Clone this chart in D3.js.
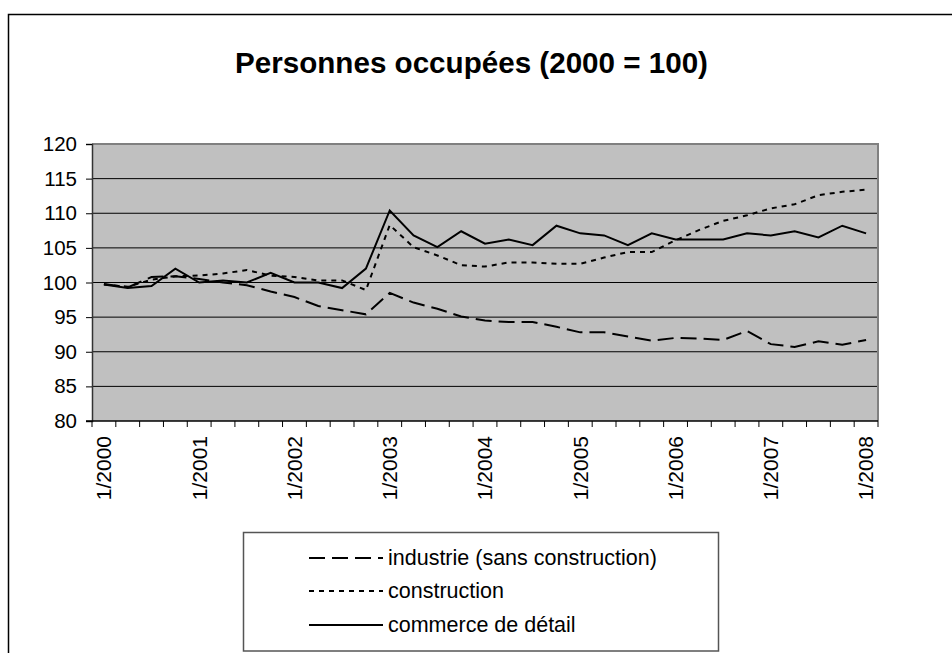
<!DOCTYPE html>
<html>
<head>
<meta charset="utf-8">
<script src="https://cdn.jsdelivr.net/npm/d3@7"></script>
<style>
  body { margin: 0; background: #fff; }
  svg { display: block; font-family: Arial, "Liberation Sans", sans-serif; }
</style>
</head>
<body>
<svg id="chart" width="952" height="653"></svg>
<script>
const title = "Personnes occupées (2000 = 100)";
const categories = [
  "1/2000","2/2000","3/2000","4/2000",
  "1/2001","2/2001","3/2001","4/2001",
  "1/2002","2/2002","3/2002","4/2002",
  "1/2003","2/2003","3/2003","4/2003",
  "1/2004","2/2004","3/2004","4/2004",
  "1/2005","2/2005","3/2005","4/2005",
  "1/2006","2/2006","3/2006","4/2006",
  "1/2007","2/2007","3/2007","4/2007",
  "1/2008"
];
const xTickLabels = ["1/2000","1/2001","1/2002","1/2003","1/2004","1/2005","1/2006","1/2007","1/2008"];
const yTicks = [80, 85, 90, 95, 100, 105, 110, 115, 120];
const seriesNames = ["industrie (sans construction)", "construction", "commerce de détail"];
const industrie = [99.8, 99.3, 100.8, 100.9, 100.5, 100.0, 99.6, 98.7, 97.9, 96.6, 96.0, 95.4,
  98.5, 97.1, 96.2, 95.1, 94.5, 94.3, 94.3, 93.6, 92.8, 92.8, 92.2, 91.6,
  92.0, 91.9, 91.7, 93.0, 91.1, 90.7, 91.5, 91.0, 91.7];
const construction = [99.7, 99.4, 100.4, 100.9, 101.0, 101.3, 101.8, 101.0, 100.8, 100.3, 100.3, 98.9,
  108.3, 105.1, 103.9, 102.5, 102.3, 102.9, 102.9, 102.7, 102.7, 103.6, 104.4, 104.4,
  106.1, 107.6, 108.9, 109.7, 110.7, 111.3, 112.6, 113.1, 113.4];
const commerce = [99.7, 99.2, 99.5, 102.0, 100.0, 100.3, 100.0, 101.4, 100.0, 100.0, 99.2, 102.0,
  110.4, 106.8, 105.1, 107.4, 105.6, 106.2, 105.4, 108.2, 107.1, 106.8, 105.4, 107.1,
  106.2, 106.2, 106.2, 107.1, 106.8, 107.4, 106.5, 108.2, 107.1];

const series = [
  { name: seriesNames[0], values: industrie, dash: "16,7" },
  { name: seriesNames[1], values: construction, dash: "5,5" },
  { name: seriesNames[2], values: commerce, dash: null }
];

const svg = d3.select("#chart");
const plot = { left: 92, right: 878, top: 144, bottom: 421 };

// outer chart border
svg.append("rect").attr("x", 8.5).attr("y", 14.5).attr("width", 1000).attr("height", 700)
  .attr("fill", "#fff").attr("stroke", "#000").attr("stroke-width", 1.5);

// title
svg.append("text").attr("x", 471.5).attr("y", 73).attr("text-anchor", "middle")
  .attr("font-size", 29.6).attr("font-weight", "bold").attr("fill", "#000").text(title);

const x = d3.scaleBand().domain(categories).range([plot.left, plot.right]).padding(0);
const y = d3.scaleLinear().domain([80, 120]).range([plot.bottom, plot.top]);
const cx = c => x(c) + x.bandwidth() / 2;

// plot background
svg.append("rect").attr("x", plot.left).attr("y", plot.top)
  .attr("width", plot.right - plot.left).attr("height", plot.bottom - plot.top)
  .attr("fill", "#c0c0c0");

// gridlines
svg.append("g").selectAll("line").data(yTicks.filter(v => v > 80 && v < 120)).join("line")
  .attr("x1", plot.left).attr("x2", plot.right)
  .attr("y1", d => y(d)).attr("y2", d => y(d))
  .attr("stroke", "#000").attr("stroke-width", 1);

// top & right border of plot
svg.append("path")
  .attr("d", `M${plot.left},${plot.top}H${plot.right}V${plot.bottom}`)
  .attr("fill", "none").attr("stroke", "#808080").attr("stroke-width", 2);

// Y axis
const yAxis = svg.append("g").attr("transform", `translate(${plot.left},0)`)
  .call(d3.axisLeft(y).tickValues(yTicks).tickSize(6).tickPadding(9).tickFormat(d3.format("d")));
yAxis.select(".domain").attr("stroke", "#333").attr("stroke-width", 1.5);
yAxis.selectAll(".tick line").attr("stroke", "#000");
yAxis.selectAll("text").attr("font-size", 20.5).attr("fill", "#000")
  .attr("font-family", "Arial, 'Liberation Sans', sans-serif");

// X axis line and ticks at band boundaries
svg.append("line").attr("x1", plot.left - 6).attr("x2", plot.right)
  .attr("y1", plot.bottom).attr("y2", plot.bottom)
  .attr("stroke", "#000").attr("stroke-width", 1.5);
const bounds = categories.map(c => x(c)).concat([plot.right]);
svg.append("g").selectAll("line").data(bounds).join("line")
  .attr("x1", d => d).attr("x2", d => d)
  .attr("y1", plot.bottom).attr("y2", plot.bottom + 6)
  .attr("stroke", "#000").attr("stroke-width", 1);

// X labels
svg.append("g").selectAll("text").data(xTickLabels).join("text")
  .attr("transform", d => `translate(${cx(d)},${plot.bottom + 15}) rotate(-90)`)
  .attr("text-anchor", "end").attr("dy", "0.35em")
  .attr("font-size", 21).attr("fill", "#000").text(d => d);

// lines
const line = d3.line().x((d, i) => cx(categories[i])).y(d => y(d));
svg.append("g").selectAll("path").data(series).join("path")
  .attr("d", d => line(d.values))
  .attr("fill", "none").attr("stroke", "#000").attr("stroke-width", 2)
  .attr("stroke-linejoin", "miter")
  .attr("stroke-dasharray", d => d.dash);

// legend
const lg = svg.append("g");
lg.append("rect").attr("x", 243.5).attr("y", 532.5).attr("width", 475).attr("height", 118.5)
  .attr("fill", "#fff").attr("stroke", "#555").attr("stroke-width", 1.5);
const baselines = [565, 598, 632];
series.forEach((s, i) => {
  lg.append("line").attr("x1", 309).attr("x2", 383)
    .attr("y1", baselines[i] - 7).attr("y2", baselines[i] - 7)
    .attr("stroke", "#000").attr("stroke-width", 2).attr("stroke-dasharray", s.dash);
  lg.append("text").attr("x", 388).attr("y", baselines[i])
    .attr("font-size", 21.5).attr("fill", "#000").text(s.name);
});
</script>
</body>
</html>
